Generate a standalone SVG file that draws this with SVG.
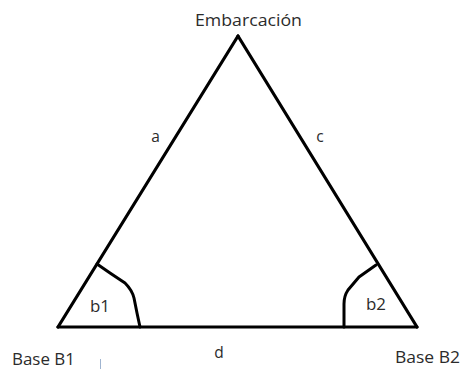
<svg xmlns="http://www.w3.org/2000/svg" width="462" height="369" viewBox="0 0 462 369">
<style>
.t{font-family:"Open Sans","Liberation Sans",sans-serif;font-size:15.5px;fill:#2b2b2b}
.ln{stroke:#000;stroke-width:3.2;fill:none;stroke-linecap:round;stroke-linejoin:round}
.arc{stroke:#000;stroke-width:3;fill:none;stroke-linecap:round;stroke-linejoin:round}
</style>
<rect width="462" height="369" fill="#fff"/>
<g id="connectors">
<line class="ln" x1="58" y1="327" x2="238" y2="36"/>
<line class="ln" x1="238" y1="36" x2="417" y2="327"/>
<line class="ln" x1="58" y1="327" x2="417" y2="327"/>
<path class="arc" d="M97,264 L110,273 L125,283 Q132,290 134,298 L137,313 L140,327"/>
<path class="arc" d="M376,265 L359,277 L348,290 Q344,296 344,304 L344,327"/>
</g>
<g id="embarcacion"><text class="t" x="195" y="26" textLength="107" lengthAdjust="spacingAndGlyphs">Embarcación</text></g>
<g id="a"><text class="t" x="155.5" y="142" text-anchor="middle">a</text></g>
<g id="c"><text class="t" x="320" y="142" text-anchor="middle">c</text></g>
<g id="b1"><text class="t" x="90" y="312" textLength="20" lengthAdjust="spacingAndGlyphs">b1</text></g>
<g id="b2"><text class="t" x="366" y="310" textLength="20" lengthAdjust="spacingAndGlyphs">b2</text></g>
<g id="d"><text class="t" x="219" y="358" text-anchor="middle">d</text></g>
<g id="baseB1"><text class="t" x="12" y="365" textLength="63" lengthAdjust="spacingAndGlyphs">Base B1</text></g>
<g id="baseB2"><text class="t" x="395" y="363" textLength="65" lengthAdjust="spacingAndGlyphs">Base B2</text></g>
<line x1="100.5" y1="359" x2="100.5" y2="369" stroke="#9fb4d0" stroke-width="1"/>
</svg>
